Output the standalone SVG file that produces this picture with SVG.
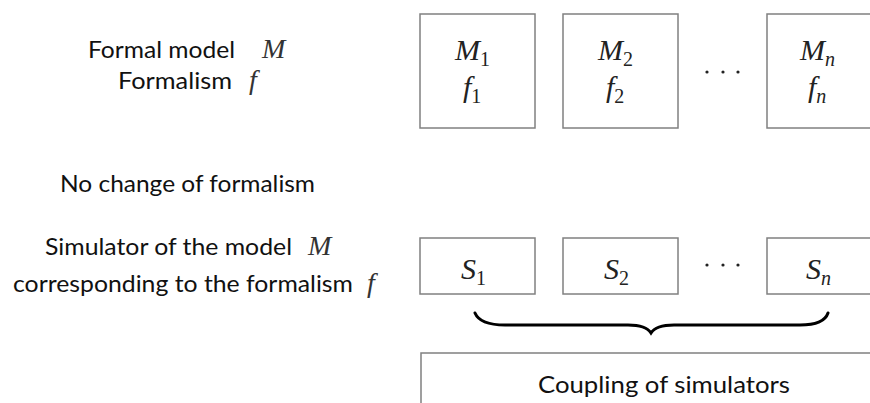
<svg xmlns="http://www.w3.org/2000/svg" width="870" height="403" viewBox="0 0 870 403">
<style>
.lbl{font-family:Lato,"Open Sans","Liberation Sans",sans-serif;font-size:23px;fill:#111}
.math{font-family:"Liberation Serif","DejaVu Serif",serif;font-style:italic;font-size:30px;fill:#222}
.lm{font-size:28px;fill:#333}
.sub{font-family:"Liberation Serif","DejaVu Serif",serif;font-size:20px;fill:#222;font-style:normal}
.subi{font-family:"Liberation Serif","DejaVu Serif",serif;font-size:20px;fill:#222;font-style:italic}
.box{fill:#fff;stroke:#808080;stroke-width:1.5}
.dot{fill:#222}
</style>
<rect width="870" height="403" fill="#fff"/>
<g id="labels">
<text class="lbl" x="88" y="58" textLength="147" lengthAdjust="spacingAndGlyphs">Formal model</text>
<text class="math lm" x="262" y="58">M</text>
<text class="lbl" x="118" y="89" textLength="114" lengthAdjust="spacingAndGlyphs">Formalism</text>
<text class="math lm" x="249" y="89">f</text>
<text class="lbl" x="60" y="192" textLength="255" lengthAdjust="spacingAndGlyphs">No change of formalism</text>
<text class="lbl" x="45" y="255" textLength="247" lengthAdjust="spacingAndGlyphs">Simulator of the model</text>
<text class="math lm" x="308" y="255">M</text>
<text class="lbl" x="13" y="292" textLength="340" lengthAdjust="spacingAndGlyphs">corresponding to the formalism</text>
<text class="math lm" x="367" y="292">f</text>
</g>
<g id="M1">
<rect class="box" x="420" y="14" width="115" height="114"/>
<text class="math" x="455" y="60">M<tspan class="sub" dy="6">1</tspan></text>
<text class="math" x="463" y="97">f<tspan class="sub" dy="6">1</tspan></text>
</g>
<g id="M2">
<rect class="box" x="563" y="14" width="115" height="114"/>
<text class="math" x="598" y="60">M<tspan class="sub" dy="6">2</tspan></text>
<text class="math" x="606" y="97">f<tspan class="sub" dy="6">2</tspan></text>
</g>
<g id="dots-top">
<circle class="dot" cx="707" cy="72" r="1.6"/>
<circle class="dot" cx="723" cy="72" r="1.6"/>
<circle class="dot" cx="738" cy="72" r="1.6"/>
</g>
<g id="Mn">
<rect class="box" x="767" y="14" width="120" height="114"/>
<text class="math" x="800" y="60">M<tspan class="subi" dy="6">n</tspan></text>
<text class="math" x="808" y="97">f<tspan class="subi" dy="6">n</tspan></text>
</g>
<g id="S1">
<rect class="box" x="420" y="238" width="115" height="56"/>
<text class="math" x="461" y="279">S<tspan class="sub" dy="6">1</tspan></text>
</g>
<g id="S2">
<rect class="box" x="563" y="238" width="115" height="56"/>
<text class="math" x="604" y="279">S<tspan class="sub" dy="6">2</tspan></text>
</g>
<g id="dots-bottom">
<circle class="dot" cx="707" cy="265" r="1.6"/>
<circle class="dot" cx="723" cy="265" r="1.6"/>
<circle class="dot" cx="738" cy="265" r="1.6"/>
</g>
<g id="Sn">
<rect class="box" x="767" y="238" width="120" height="56"/>
<text class="math" x="806" y="279">S<tspan class="subi" dy="6">n</tspan></text>
</g>
<g id="connectors">
<path d="M475,313 Q480,325 505,325 L628,325 Q646,325 651,333 Q656,325 674,325 L800,325 Q824,325 828,313" fill="none" stroke="#000" stroke-width="3" stroke-linecap="round"/>
</g>
<g id="coupling">
<rect class="box" x="421" y="353" width="470" height="80"/>
<text class="lbl" x="664" y="393" text-anchor="middle" textLength="252" lengthAdjust="spacingAndGlyphs">Coupling of simulators</text>
</g>
</svg>
